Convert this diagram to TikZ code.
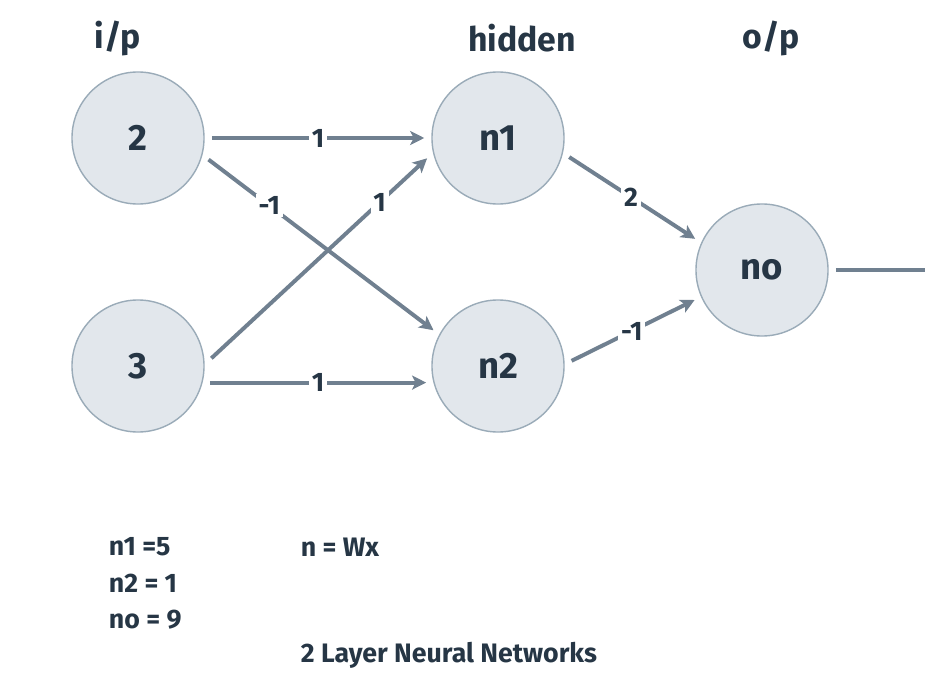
\documentclass[tikz,border=0pt]{standalone}
\usepackage{fontspec}
\setmainfont{Fira Sans}
\usetikzlibrary{arrows.meta}
\definecolor{edgegray}{HTML}{708090}
\definecolor{cellfill}{HTML}{E2E7EC}
\definecolor{cellline}{HTML}{9AABB8}
\definecolor{inkdark}{HTML}{263645}

\begin{document}
\begin{tikzpicture}[x=0.025cm,y=-0.025cm,
    neuron/.style={circle,fill=cellfill,draw=cellline,line width=1pt,minimum size=3.3cm,
      outer sep=5.5pt,text=inkdark,font=\fontsize{26}{30}\selectfont\bfseries},
    wire/.style={edgegray,line width=2.8pt,-{Stealth[length=10pt,width=10pt,inset=2.5pt]}},
    wlabel/.style={fill=white,inner sep=2pt,text=inkdark,font=\fontsize{19}{22}\selectfont\bfseries},
    head/.style={text=inkdark,font=\fontsize{24}{28}\selectfont\bfseries},
    note/.style={anchor=west,text=inkdark,font=\fontsize{19}{22}\selectfont\bfseries}]
      \useasboundingbox (0,0) rectangle (948,696);

      % layer titles
      \node[head] (tin) at (118,38) {i/p};
      \node[head] (thid) at (522,38) {hidden};
      \node[head] (tout) at (771,38) {o/p};

      % neurons
      \node[neuron] (x1) at (138,138) {2};
      \node[neuron] (x2) at (138,366) {3};
      \node[neuron] (h1) at (498,138) {n1};
      \node[neuron] (h2) at (498,366) {n2};
      \node[neuron] (o) at (762,270) {no};
      \coordinate (y) at (925,270);

      % weights
      \draw[wire] (x1.0) -- node[wlabel,pos=0.5] {1} (h1.180);
      \draw[wire] (x1.-17) -- node[wlabel,pos=0.27] {-1} (h2.151);
      \draw[wire] (x2.6) -- node[wlabel,pos=0.78] {1} (h1.-164);
      \draw[wire] (x2.-13) -- node[wlabel,pos=0.5] {1} (h2.-167);
      \draw[wire] (h1.-15) -- node[wlabel,pos=0.49] {2} (o.155);
      \draw[wire] (h2.4) -- node[wlabel,pos=0.49] {-1} (o.-156);
      \draw[edgegray,line width=2.8pt] (o.0) -- (y);

      % values
      \node[note] (v1) at (104,547) {n1 =5};
      \node[note] (v2) at (104,583) {n2 = 1};
      \node[note] (v3) at (104,620) {no = 9};
      \node[note] (rule) at (296,547) {n = Wx};
      \node[note] (cap) at (296,655) {2 Layer Neural Networks};
\end{tikzpicture}
\end{document}
